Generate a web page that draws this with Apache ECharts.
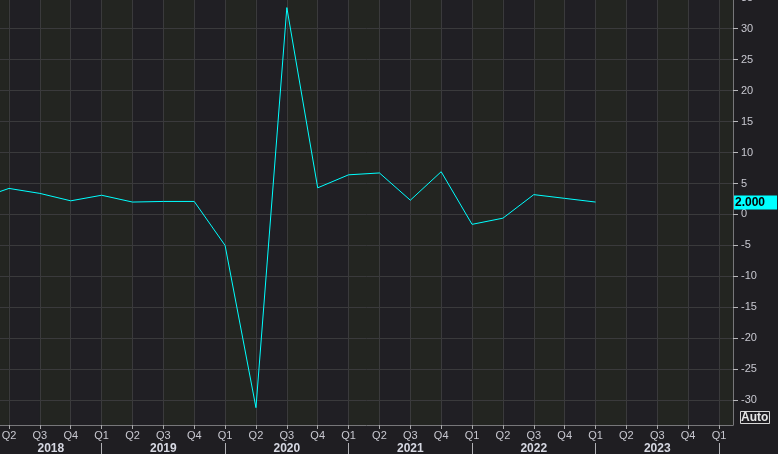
<!DOCTYPE html>
<html>
<head>
<meta charset="UTF-8">
<title>GDP QoQ annualized</title>
<script src="https://cdn.jsdelivr.net/npm/echarts@6/dist/echarts.min.js"></script>
<style>
    html, body { margin: 0; padding: 0; background: #1f1e22; }
    #chart1 { width: 778px; height: 454px; }
</style>
</head>
<body>
<div id="chart1"></div>
<script type="text/javascript">
// quarter labels, index 0 = Q1 2018 ... index 24 = Q1 2024
var quarterLabels = [
    'Q1', 'Q2', 'Q3', 'Q4',
    'Q1', 'Q2', 'Q3', 'Q4',
    'Q1', 'Q2', 'Q3', 'Q4',
    'Q1', 'Q2', 'Q3', 'Q4',
    'Q1', 'Q2', 'Q3', 'Q4',
    'Q1', 'Q2', 'Q3', 'Q4',
    'Q1'
];
var yearLabels = ['2018', '2019', '2020', '2021', '2022', '2023'];
// QoQ annualized, Q1 2018 .. Q1 2023
var gdpValues = [2.5, 4.2, 3.4, 2.2, 3.1, 2.0, 2.1, 2.1, -5.0, -31.2, 33.4, 4.3,
    6.4, 6.7, 2.3, 6.9, -1.6, -0.6, 3.2, 2.6, 2.0];
var yTicks = [-30, -25, -20, -15, -10, -5, 0, 5, 10, 15, 20, 25, 30, 35];

var chart1 = echarts.init(document.getElementById('chart1'));

var font = 'Liberation Sans, Arial, sans-serif';
var lineColor = '#00ffff';
var gridColor = '#3a3a3c';
var axisColor = '#77777a';

// visible window of the time axis (in quarter index)
var xMin = 0.7085;
var xMax = 24.453;

var quarterTicks = [];
for (var i = 0; i < quarterLabels.length; i++) {
    if (i >= xMin && i <= xMax) quarterTicks.push(i);
}
// column edges for the alternating background
var columnEdges = [xMin].concat(quarterTicks).concat([xMax]);

var yearSeps = [];
var yearCenters = [];
yearLabels.forEach(function (y, k) {
    var s = k * 4, e = k * 4 + 4;
    if (s >= xMin) yearSeps.push(s);
    yearCenters.push((Math.max(s, xMin) + Math.min(e, xMax)) / 2);
});
yearSeps.push(yearLabels.length * 4);

var seriesData = gdpValues.map(function (v, i) { return [i, v]; });
var lastValue = gdpValues[gdpValues.length - 1];

var option = {
    backgroundColor: '#1f1e22',
    animation: false,
    title: {
        text: 'Auto',
        left: 740,
        top: 411,
        padding: [0, 1, 0, 1],
        borderColor: '#d8d8d8',
        borderWidth: 1,
        textStyle: { fontSize: 12, fontWeight: 'bold', color: '#e6e6e6', fontFamily: font, lineHeight: 13 }
    },
    grid: {
        left: 0,
        right: 45,
        top: -2.3,
        bottom: 29,
        outerBoundsMode: 'none'
    },
    xAxis: [
        {
            // background columns only
            type: 'value',
            min: xMin,
            max: xMax,
            z: 0,
            axisLine: { show: false },
            axisTick: { show: false, customValues: columnEdges },
            axisLabel: { show: false },
            splitLine: { show: false },
            splitArea: { show: true, areaStyle: { color: ['#232521', '#201f24'] } }
        },
        {
            type: 'value',
            min: xMin,
            max: xMax,
            position: 'bottom',
            z: 1,
            axisLine: { show: true, lineStyle: { color: axisColor, width: 1 } },
            axisTick: { show: true, length: 4, customValues: quarterTicks, lineStyle: { color: '#a8a8aa' } },
            axisLabel: {
                show: true,
                customValues: quarterTicks,
                margin: 5,
                color: '#c8c8d0',
                fontSize: 11,
                fontFamily: font,
                formatter: function (v) { return quarterLabels[Math.round(v)]; }
            },
            splitLine: { show: true, lineStyle: { color: gridColor, width: 1 } }
        },
        {
            type: 'value',
            min: xMin,
            max: xMax,
            position: 'bottom',
            offset: 18,
            z: 1,
            axisLine: { show: false },
            axisTick: { show: true, length: 12, customValues: yearSeps, lineStyle: { color: '#b0b0b4' } },
            axisLabel: {
                show: true,
                customValues: yearCenters,
                margin: 0,
                color: '#d6d8e2',
                fontSize: 12,
                fontWeight: 'bold',
                fontFamily: font,
                formatter: function (v) { return yearLabels[Math.floor(v / 4)]; }
            },
            splitLine: { show: false }
        }
    ],
    yAxis: {
        type: 'value',
        position: 'right',
        min: -34,
        max: 35,
        z: 1,
        axisLine: { show: true, lineStyle: { color: axisColor, width: 1 } },
        axisTick: { show: true, length: 5, customValues: yTicks, lineStyle: { color: '#b8b8ba' } },
        axisLabel: {
            customValues: yTicks,
            margin: 8,
            color: '#c8c8d0',
            fontSize: 11,
            fontFamily: font
        },
        splitLine: { show: true, lineStyle: { color: gridColor, width: 1 } },
        // last value tag on the axis
        axisPointer: {
            show: true,
            type: 'none',
            status: 'show',
            value: lastValue,
            snap: false,
            triggerTooltip: false,
            label: {
                show: true,
                margin: 1,
                formatter: function (p) { return Number(p.value).toFixed(3); },
                backgroundColor: lineColor,
                color: '#000000',
                fontSize: 12,
                fontWeight: 'bold',
                fontFamily: font,
                lineHeight: 13,
                padding: [1, 12, 0, 1],
                borderRadius: 0,
                shadowBlur: 0
            }
        }
    },
    series: [
        {
            type: 'line',
            xAxisIndex: 1,
            data: seriesData,
            symbol: 'none',
            z: 3,
            lineStyle: { color: lineColor, width: 1 }
        }
    ]
};
chart1.setOption(option);
</script>
</body>
</html>
